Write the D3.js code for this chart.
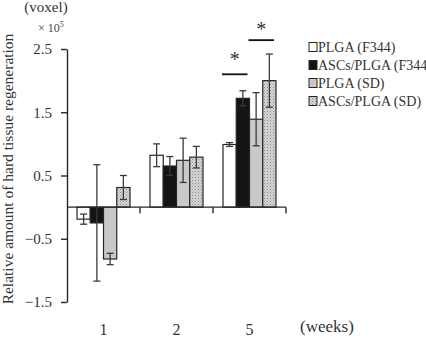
<!DOCTYPE html>
<html>
<head>
<meta charset="utf-8">
<script src="https://cdn.jsdelivr.net/npm/d3@7"></script>
<style>
  body { margin: 0; background: #fff; }
  svg { display: block; }
  svg text { font-family: "Liberation Serif", "Times New Roman", serif; }
</style>
</head>
<body>
<div id="chart"></div>
<script>
// weeks after implantation
const weeks = ["1", "2", "5"];
const seriesNames = ["PLGA (F344)", "ASCs/PLGA (F344", "PLGA (SD)", "ASCs/PLGA (SD)"];
// means (x 10^5 voxel), one value per week
const plgaF344 = [-0.19, 0.82, 0.99];
const ascsF344 = [-0.25, 0.65, 1.72];
const plgaSD = [-0.82, 0.74, 1.39];
const ascsSD = [0.31, 0.79, 2.0];
// error bar half-lengths
const errPlgaF344 = [0.08, 0.18, 0.03];
const errAscsF344 = [0.92, 0.15, 0.12];
const errPlgaSD = [0.09, 0.35, 0.42];
const errAscsSD = [0.19, 0.17, 0.42];
const yTicks = [2.5, 1.5, 0.5, -0.5, -1.5];
// significance brackets at week 5: [first series, last series, bar level, star level]
const sigPairs = [[0, 1, 2.1, 2.38], [2, 3, 2.64, 2.84]];

const width = 426, height = 339;
const fills = ["#ffffff", "#141414", "#c9c9c9", "url(#dots)"];
const means = [plgaF344, ascsF344, plgaSD, ascsSD];
const errs = [errPlgaF344, errAscsF344, errPlgaSD, errAscsSD];

const svg = d3.select("#chart").append("svg")
  .attr("width", width).attr("height", height);

// stipple pattern for ASCs/PLGA (SD)
const pat = svg.append("defs").append("pattern")
  .attr("id", "dots").attr("patternUnits", "userSpaceOnUse")
  .attr("width", 3).attr("height", 3);
pat.append("rect").attr("width", 3).attr("height", 3).attr("fill", "#d6d6d6");
pat.append("rect").attr("x", 0).attr("y", 0).attr("width", 1).attr("height", 1).attr("fill", "#8a8a8a");
pat.append("rect").attr("x", 1.5).attr("y", 1.5).attr("width", 1).attr("height", 1).attr("fill", "#a5a5a5");

const y = d3.scaleLinear().domain([-1.5, 2.5]).range([302, 49]);
const xGroup = d3.scaleBand().domain(weeks).range([67, 286]);
const xSeries = d3.scaleBand().domain(d3.range(4)).range([0, xGroup.bandwidth()])
  .paddingOuter(0.755);
const bw = xSeries.bandwidth();

const ink = "#262626";
const serif = '"Liberation Serif", "Times New Roman", serif';

// bars
const rows = [];
weeks.forEach((w, gi) => {
  means.forEach((m, si) => rows.push({ w, si, v: m[gi], e: errs[si][gi] }));
});

const g = svg.append("g");
g.selectAll("rect.bar").data(rows).join("rect")
  .attr("class", "bar")
  .attr("x", d => xGroup(d.w) + xSeries(d.si))
  .attr("y", d => y(Math.max(0, d.v)))
  .attr("width", bw)
  .attr("height", d => Math.abs(y(d.v) - y(0)))
  .attr("fill", d => fills[d.si])
  .attr("stroke", ink)
  .attr("stroke-width", 1.2);

// error bars
const eb = g.selectAll("g.err").data(rows).join("g").attr("class", "err")
  .attr("transform", d => `translate(${xGroup(d.w) + xSeries(d.si) + bw / 2},0)`);
eb.append("line")
  .attr("y1", d => y(d.v + d.e)).attr("y2", d => y(d.v - d.e))
  .attr("stroke", "#3a3a3a").attr("stroke-width", 1.3);
eb.append("line")
  .attr("x1", -3.5).attr("x2", 3.5)
  .attr("y1", d => y(d.v + d.e)).attr("y2", d => y(d.v + d.e))
  .attr("stroke", "#3a3a3a").attr("stroke-width", 1.3);
eb.append("line")
  .attr("x1", -3.5).attr("x2", 3.5)
  .attr("y1", d => y(d.v - d.e)).attr("y2", d => y(d.v - d.e))
  .attr("stroke", "#3a3a3a").attr("stroke-width", 1.3);

// y axis
const yAxis = svg.append("g")
  .attr("transform", `translate(${xGroup.range()[0]},0)`)
  .call(d3.axisLeft(y).tickValues(yTicks).tickSize(6).tickSizeOuter(0).tickFormat(d3.format(".1f")));
yAxis.attr("font-family", serif);
yAxis.select(".domain").attr("stroke", ink).attr("stroke-width", 1.4);
yAxis.selectAll(".tick line").attr("stroke", ink).attr("stroke-width", 1.4);
yAxis.selectAll(".tick text")
  .attr("x", -15).attr("font-size", 15).attr("fill", "#333");

// zero line with group boundary ticks
const zero = svg.append("g");
zero.append("line")
  .attr("x1", xGroup.range()[0]).attr("x2", xGroup.range()[1])
  .attr("y1", y(0)).attr("y2", y(0))
  .attr("stroke", ink).attr("stroke-width", 1.4);
zero.selectAll("line.bt").data(weeks).join("line").attr("class", "bt")
  .attr("x1", d => xGroup(d) + xGroup.bandwidth())
  .attr("x2", d => xGroup(d) + xGroup.bandwidth())
  .attr("y1", y(0)).attr("y2", y(0) + 6)
  .attr("stroke", ink).attr("stroke-width", 1.4);

// group labels
const xAxis = svg.append("g")
  .attr("transform", "translate(0,321)")
  .call(d3.axisBottom(xGroup).tickSize(0));
xAxis.attr("font-family", serif);
xAxis.select(".domain").remove();
xAxis.selectAll(".tick text").attr("font-size", 16).attr("fill", "#333");

svg.append("text")
  .attr("x", 327).attr("y", 332)
  .attr("text-anchor", "middle")
  .attr("font-size", 17).attr("fill", "#333")
  .text("(weeks)");

// y labels
svg.append("text")
  .attr("transform", "translate(13,169) rotate(-90)")
  .attr("text-anchor", "middle")
  .attr("font-size", 15.5).attr("fill", "#333")
  .text("Relative amount of hard tissue regeneration");

svg.append("text")
  .attr("x", 46).attr("y", 12)
  .attr("text-anchor", "middle")
  .attr("font-size", 15).attr("fill", "#333")
  .text("(voxel)");

const exp = svg.append("text")
  .attr("x", 38).attr("y", 32)
  .attr("font-size", 12).attr("fill", "#444");
exp.append("tspan").text("× 10");
exp.append("tspan").attr("dy", -5).attr("font-size", 8).text("5");

// significance markers at week 5
const w5 = weeks[2];
sigPairs.forEach(([a, b, h, s]) => {
  const x1 = xGroup(w5) + xSeries(a) - 1;
  const x2 = xGroup(w5) + xSeries(b) + bw - 2;
  svg.append("line")
    .attr("x1", x1).attr("x2", x2)
    .attr("y1", y(h)).attr("y2", y(h))
    .attr("stroke", "#111").attr("stroke-width", 1.8);
  svg.append("text")
    .attr("x", (x1 + x2) / 2).attr("y", y(s) + 9)
    .attr("text-anchor", "middle")
    .attr("font-size", 20).attr("fill", "#333")
    .text("*");
});

// legend
const legend = svg.append("g").attr("transform", "translate(309,47)");
const li = legend.selectAll("g").data(seriesNames).join("g")
  .attr("transform", (d, i) => `translate(0,${i * 18})`);
li.append("rect")
  .attr("x", 0).attr("y", -4.5).attr("width", 8).attr("height", 9)
  .attr("fill", (d, i) => fills[i])
  .attr("stroke", ink).attr("stroke-width", 1);
li.append("text")
  .attr("x", 9).attr("y", 5)
  .attr("font-size", 14).attr("fill", "#333")
  .text(d => d);
</script>
</body>
</html>
